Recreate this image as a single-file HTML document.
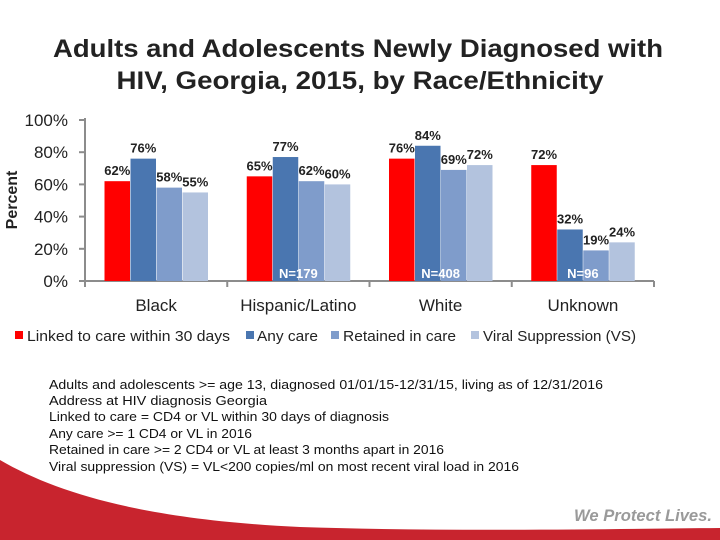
<!DOCTYPE html>
<html><head><meta charset="utf-8"><style>
html,body{margin:0;padding:0;background:#fff}
svg{display:block;font-family:"Liberation Sans","DejaVu Sans",sans-serif}
</style></head><body>
<svg id="chart" width="720" height="540" viewBox="0 0 720 540">
  <path d="M0,460 C60,495 150,520 300,527 C450,532 600,529 720,528 L720,540 L0,540 Z" fill="#c8242e"/>
  <g fill="#222" font-size="25" font-weight="bold" text-anchor="middle">
    <text x="358" y="57" textLength="610" lengthAdjust="spacingAndGlyphs">Adults and Adolescents Newly Diagnosed with</text>
    <text x="360" y="89" textLength="487" lengthAdjust="spacingAndGlyphs">HIV, Georgia, 2015, by Race/Ethnicity</text>
  </g>
  <text transform="translate(17,200) rotate(-90)" text-anchor="middle" font-size="16" font-weight="bold" fill="#222">Percent</text>
  <g id="axes"></g>
  <g id="bars"></g>
  <g id="labels"></g>
  <g font-size="15" fill="#222">
    <rect x="15" y="331" width="8" height="8" fill="#ff0000"/>
    <text x="27" y="341" textLength="203" lengthAdjust="spacingAndGlyphs">Linked to care within 30 days</text>
    <rect x="246" y="331" width="8" height="8" fill="#4a76b0"/>
    <text x="257" y="341" textLength="61" lengthAdjust="spacingAndGlyphs">Any care</text>
    <rect x="331" y="331" width="8" height="8" fill="#7f9ccb"/>
    <text x="343" y="341" textLength="113" lengthAdjust="spacingAndGlyphs">Retained in care</text>
    <rect x="471" y="331" width="8" height="8" fill="#b3c3de"/>
    <text x="483" y="341" textLength="153" lengthAdjust="spacingAndGlyphs">Viral Suppression (VS)</text>
  </g>
  <g font-size="13" fill="#111">
    <text x="49" y="389" textLength="554" lengthAdjust="spacingAndGlyphs">Adults and adolescents &gt;= age 13, diagnosed 01/01/15-12/31/15, living as of 12/31/2016</text>
    <text x="49" y="405" textLength="218" lengthAdjust="spacingAndGlyphs">Address at HIV diagnosis Georgia</text>
    <text x="49" y="421" textLength="340" lengthAdjust="spacingAndGlyphs">Linked  to care = CD4 or VL within 30 days of diagnosis</text>
    <text x="49" y="438" textLength="203" lengthAdjust="spacingAndGlyphs">Any care &gt;= 1 CD4 or VL in 2016</text>
    <text x="49" y="454" textLength="395" lengthAdjust="spacingAndGlyphs">Retained in care &gt;= 2 CD4 or VL at least 3 months apart in 2016</text>
    <text x="49" y="471" textLength="470" lengthAdjust="spacingAndGlyphs">Viral suppression (VS) = VL&lt;200 copies/ml on most recent viral load in 2016</text>
  </g>
  <text x="712" y="521" text-anchor="end" font-size="17" font-weight="bold" font-style="italic" fill="#9a9a9a" textLength="138" lengthAdjust="spacingAndGlyphs">We Protect Lives.</text>
</svg>
<script>
const categories = ["Black", "Hispanic/Latino", "White", "Unknown"];
const linkedValues = [62, 65, 76, 72];
const anyCareValues = [76, 77, 84, 32];
const retainedValues = [58, 62, 69, 19];
const vsValues = [55, 60, 72, 24];
const nLabels = ["", "N=179", "N=408", "N=96"];
const yTicks = [0, 20, 40, 60, 80, 100];

const NS = "http://www.w3.org/2000/svg";
const X0 = 85, X1 = 654, Y0 = 281, Y100 = 120;
const groupW = (X1 - X0) / categories.length;
const barW = 25.5, groupPad = 19.5;
function yScale(v){ return Y0 - (v/100)*(Y0 - Y100); }
function groupX(i){ return X0 + i*groupW; }
function mk(tag, attrs, parent){ const e = document.createElementNS(NS, tag); for (const k in attrs) e.setAttribute(k, attrs[k]); parent.appendChild(e); return e; }

const axes = document.getElementById("axes");
const yAxis = mk("line", {x1:X0, y1:Y100-2, x2:X0, y2:Y0, stroke:"#8c8c8c", "stroke-width":2}, axes);


const xAxis = mk("line", {x1:X0, y1:Y0, x2:X1, y2:Y0, stroke:"#8c8c8c", "stroke-width":2}, axes);


yTicks.forEach(function(t){
  const y = yScale(t);
  const tk = mk("line", {x1:X0-6, y1:y, x2:X0, y2:y, stroke:"#8c8c8c", "stroke-width":2}, axes);
  
  
  const lb = mk("text", {x:68, y:y+6, "text-anchor":"end", "font-size":17, fill:"#222"}, axes);
  lb.textContent = t + "%";
  
  
});
for (let i = 0; i <= categories.length; i++) {
  const x = groupX(i);
  const tk = mk("line", {x1:x, y1:Y0, x2:x, y2:Y0+6, stroke:"#8c8c8c", "stroke-width":2}, axes);
  
  
}

const series = [
  {vals: linkedValues, color:"#ff0000", name:"linked"},
  {vals: anyCareValues, color:"#4a76b0", name:"any-care"},
  {vals: retainedValues, color:"#7f9ccb", name:"retained"},
  {vals: vsValues, color:"#b3c3de", name:"vs"}
];
const bars = document.getElementById("bars");
const labels = document.getElementById("labels");
categories.forEach(function(cat, i){
  series.forEach(function(s, j){
    const v = s.vals[i];
    const x = groupX(i) + groupPad + j*(barW+0.5);
    const y = yScale(v);
    const r = mk("rect", {x:x, y:y, width:barW, height:Y0-y, fill:s.color}, bars);
    
    
    const t = mk("text", {x:x+barW/2, y:y-6, "text-anchor":"middle", "font-size":13, "font-weight":"bold", fill:"#222"}, labels);
    t.textContent = v + "%";
    
    
  });
  const cx = groupX(i) + groupW/2;
  const cl = mk("text", {x:cx, y:311, "text-anchor":"middle", "font-size":17, fill:"#222"}, labels);
  cl.textContent = cat;
  
  
  if (nLabels[i]) {
    const n = mk("text", {x:cx, y:278, "text-anchor":"middle", "font-size":13, "font-weight":"bold", fill:"#fff"}, labels);
    n.textContent = nLabels[i];
    
    
  }
});
</script>
</body></html>
